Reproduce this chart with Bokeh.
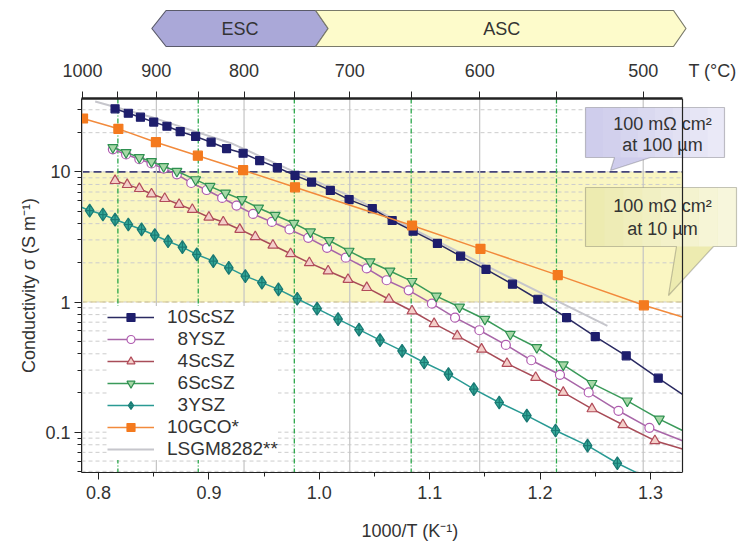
import math
from bokeh.plotting import figure
from bokeh.layouts import column
from bokeh.models import (Range1d, FixedTicker, CustomJSTickFormatter, NumeralTickFormatter,
                          LinearAxis, Span, BoxAnnotation, PolyAnnotation, Label, Legend, LegendItem)
from bokeh.embed import file_html
from bokeh.resources import INLINE

# ---------------- data ----------------
sc10_x = [0.815, 0.827, 0.838, 0.850, 0.862, 0.874, 0.888, 0.902, 0.916, 0.931, 0.946, 0.962, 0.978, 0.993,
          1.010, 1.027, 1.048, 1.066, 1.085, 1.107, 1.128, 1.151, 1.175, 1.198, 1.224, 1.250, 1.278, 1.307]
sc10_y = [30.5, 28.2, 26.3, 24.1, 22.4, 20.4, 18.7, 16.9, 15.1, 13.9, 12.2, 10.8, 9.4, 8.35,
          7.2, 6.12, 5.22, 4.23, 3.50, 2.82, 2.25, 1.78, 1.37, 1.05, 0.758, 0.542, 0.386, 0.260]
sc10_fit_x = [1.329]
sc10_fit_y = [0.195]

ysz8_x = [0.813, 0.825, 0.837, 0.848, 0.859, 0.871, 0.884, 0.898, 0.912, 0.925, 0.940, 0.957, 0.973, 0.990,
          1.007, 1.024, 1.043, 1.061, 1.081, 1.102, 1.123, 1.145, 1.169, 1.192, 1.218, 1.244, 1.271, 1.299]
ysz8_y = [14.9, 13.6, 12.5, 11.6, 10.6, 9.57, 8.21, 7.25, 6.30, 5.51, 4.75, 4.12, 3.61, 3.11,
          2.61, 2.19, 1.81, 1.47, 1.23, 0.971, 0.758, 0.607, 0.468, 0.357, 0.276, 0.202, 0.146, 0.108]
ysz8_fit_x = [1.329]
ysz8_fit_y = [0.086]

sc4_x = [0.815, 0.826, 0.837, 0.848, 0.860, 0.873, 0.885, 0.900, 0.913, 0.928, 0.942, 0.958, 0.974, 0.991,
         1.008, 1.026, 1.043, 1.063, 1.084, 1.104, 1.125, 1.147, 1.170, 1.196, 1.221, 1.247, 1.275, 1.304]
sc4_y = [8.56, 7.98, 7.43, 6.76, 6.23, 5.61, 5.13, 4.48, 4.12, 3.61, 3.17, 2.73, 2.35, 2.00,
         1.73, 1.49, 1.29, 1.05, 0.853, 0.682, 0.549, 0.434, 0.337, 0.263, 0.202, 0.151, 0.114, 0.086]
sc4_fit_x = [1.329]
sc4_fit_y = [0.0743]

sc6_x = [0.813, 0.825, 0.837, 0.848, 0.859, 0.871, 0.888, 0.901, 0.915, 0.930, 0.945, 0.960, 0.977, 0.992,
         1.009, 1.027, 1.046, 1.064, 1.084, 1.106, 1.127, 1.150, 1.173, 1.197, 1.221, 1.247, 1.279, 1.308]
sc6_y = [15.4, 14.1, 12.9, 12.0, 11.0, 10.1, 8.71, 7.74, 6.88, 6.12, 5.28, 4.64, 4.03, 3.46,
         2.97, 2.46, 2.04, 1.73, 1.44, 1.11, 0.916, 0.737, 0.566, 0.447, 0.329, 0.237, 0.174, 0.126]
sc6_fit_x = [1.329]
sc6_fit_y = [0.103]

ysz3_x = [0.792, 0.804, 0.815, 0.827, 0.839, 0.851, 0.863, 0.876, 0.889, 0.904, 0.918, 0.933, 0.948, 0.963,
          0.980, 0.998, 1.017, 1.036, 1.055, 1.075, 1.095, 1.117, 1.140, 1.163, 1.188, 1.214, 1.243, 1.270]
ysz3_y = [5.04, 4.70, 4.30, 3.94, 3.61, 3.26, 2.93, 2.64, 2.32, 2.06, 1.83, 1.58, 1.41, 1.25,
          1.06, 0.889, 0.738, 0.613, 0.510, 0.421, 0.343, 0.279, 0.214, 0.169, 0.134, 0.103, 0.0788, 0.0577]
ysz3_fit_x0 = [0.7846]
ysz3_fit_y0 = [5.35]
ysz3_fit_x = [1.296]
ysz3_fit_y = [0.045]

gco_x = [0.786, 0.818, 0.852, 0.890, 0.931, 0.978, 1.084, 1.146, 1.216, 1.294]
gco_y = [25.7, 21.4, 16.9, 13.3, 10.3, 7.61, 3.87, 2.56, 1.61, 0.943]
gco_fit_x = [1.329]
gco_fit_y = [0.767]

lsgm_x = [0.797, 0.850, 0.920, 0.971, 1.030, 1.085, 1.170, 1.261]
lsgm_y = [34.7, 26.0, 16.6, 10.6, 6.4, 3.63, 1.58, 0.655]

x_ticks = [0.8, 0.9, 1.0, 1.1, 1.2, 1.3]
x_minor = [0.85, 0.95, 1.05, 1.15, 1.25]
y_ticks = [0.1, 1, 10]
y_minor = [0.05, 0.06, 0.07, 0.08, 0.09, 0.2, 0.3, 0.4, 0.5, 0.6, 0.7, 0.8, 0.9,
           2, 3, 4, 5, 6, 7, 8, 9, 20, 30]
T_labels = [1000, 900, 800, 700, 600, 500]      # deg C, labelled on top axis / solid grid
T_half = [950, 850, 750, 650, 550]               # deg C, dash-dot grid

# ---------------- layout constants (page pixels) ----------------
W, H = 738, 552
BANNER_H = 55
FL, FR, FT, FB = 81, 682, 98, 472          # visible plot box
X0, X1 = 0.7846, 1.329                      # data range of plot box
Y0, Y1 = 0.049, 36.6
XR = X0 + (W - FL) / (FR - FL) * (X1 - X0)  # frame extends to right page edge
FONT = "Liberation Sans"
TXT = "#333333"


def X(px):
    return X0 + (px - FL) / (FR - FL) * (X1 - X0)


def Y(py):
    l0, l1 = math.log10(Y0), math.log10(Y1)
    return 10 ** (l1 - (py - FT) / (FB - FT) * (l1 - l0))


def inv(T):
    return 1000.0 / (T + 273.15)


# ---------------- banner figure ----------------
b = figure(width=W, height=BANNER_H, x_range=Range1d(0, W), y_range=Range1d(BANNER_H, 0),
           output_backend="svg", toolbar_location=None, x_axis_location=None, y_axis_location=None,
           min_border_left=0, min_border_right=0, min_border_top=0, min_border_bottom=0)
b.grid.visible = False
b.outline_line_color = None
b.background_fill_color = "white"
b.border_fill_color = "white"
b.patch([79, 95, 263, 277, 263, 95], [28, 10, 10, 28, 46, 46],
        fill_color="#aaa8d8", line_color="#5a5a6a", line_width=1.2)
b.patch([263, 665, 679, 665, 263, 277], [10, 10, 28, 46, 46, 28],
        fill_color="#fdfbcb", line_color="#7a7a6a", line_width=1.2)
for tx, tt in [(178, "ESC"), (472, "ASC")]:
    b.add_layout(Label(x=tx, y=28, text=tt, text_font=FONT, text_font_size="18px", text_color=TXT,
                       text_align="center", text_baseline="middle"))

# ---------------- main figure ----------------
p = figure(width=W, height=H - BANNER_H, x_range=Range1d(X0, XR), y_range=Range1d(Y0, Y1), y_axis_type="log",
           output_backend="svg", toolbar_location=None,
           min_border_left=FL, min_border_right=0, min_border_top=FT - BANNER_H, min_border_bottom=H - FB)
p.background_fill_color = "white"
p.border_fill_color = "white"
p.outline_line_color = None

xax = p.below[0]
yax = p.left[0]
xax.ticker = FixedTicker(ticks=x_ticks, minor_ticks=x_minor)
xax.formatter = NumeralTickFormatter(format="0.0")
xax.axis_label = "1000/T (K\u207b\u00b9)"
xax.bounds = (X0, X1)
yax.ticker = FixedTicker(ticks=y_ticks, minor_ticks=y_minor)
yax.formatter = CustomJSTickFormatter(code="return String(tick)")
yax.axis_label = "Conductivity \u03c3 (S m\u207b\u00b9)"

top = LinearAxis(ticker=FixedTicker(ticks=[inv(t) for t in T_labels] + [X(712)],
                                    minor_ticks=[inv(t) for t in T_labels + T_half]),
                 formatter=CustomJSTickFormatter(
                     args=dict(lim=X1),
                     code="return tick > lim ? 'T (\u00b0C)' : String(Math.round(1000/tick - 273.15))"))
p.add_layout(top, "above")

for ax in [xax, yax, top]:
    ax.axis_line_color = "#222222"
    ax.major_tick_line_color = "#222222"
    ax.minor_tick_line_color = "#222222"
    ax.major_tick_in = 0
    ax.major_tick_out = 7
    ax.minor_tick_in = 0
    ax.minor_tick_out = 4
    ax.major_label_text_font = FONT
    ax.major_label_text_font_size = "18px"
    ax.major_label_text_color = TXT
    ax.axis_label_text_font = FONT
    ax.axis_label_text_font_size = "18px"
    ax.axis_label_text_font_style = "normal"
    ax.axis_label_text_color = TXT
xax.major_label_standoff = 6
xax.axis_label_standoff = 19
yax.major_label_standoff = 4
yax.axis_label_standoff = 3
top.axis_line_color = None
top.major_tick_out = 0
top.minor_tick_out = 7
top.major_label_standoff = 11

p.grid.visible = False

# yellow band 1..10
p.add_layout(BoxAnnotation(left=X0, right=X1, bottom=1, top=10, fill_color="#faf6c2", fill_alpha=1.0,
                           line_color=None, level="image"))
# horizontal grid
p.segment(x0=X0, x1=X1, y0=y_minor + y_ticks, y1=y_minor + y_ticks, line_color="#cccccc",
          line_width=1, line_dash="4 3", level="underlay")
for t in T_labels:
    p.add_layout(Span(location=inv(t), dimension="height", line_color="#c4c4c4", line_width=1.2, level="underlay"))
for t in T_half:
    p.add_layout(Span(location=inv(t), dimension="height", line_color="#2aa64a", line_width=1.3,
                      line_dash="5 2 1 2", level="underlay"))
p.segment(x0=X0, x1=X1, y0=10, y1=10, line_color="#44447a", line_width=1.6, line_dash="8 4", level="underlay")
p.segment(x0=X0, x1=X1, y0=1, y1=1, line_color="#d2c48a", line_width=1.2, line_dash="6 3", level="underlay")

# ---------------- series ----------------
items = []
r = p.line(lsgm_x, lsgm_y, line_color="#c6c6cc", line_width=2)
lsgm_item = LegendItem(label="LSGM8282**", renderers=[r])


def series(label, xs, ys, lx, ly, marker, size, fill, edge, lcol):
    rl = p.line(lx, ly, line_color=lcol, line_width=1.5)
    rs = p.scatter(xs, ys, marker=marker, size=size, fill_color=fill, line_color=edge, line_width=1.2)
    items.append(LegendItem(label=label, renderers=[rl, rs]))


series("10ScSZ", sc10_x, sc10_y, sc10_x + sc10_fit_x, sc10_y + sc10_fit_y,
       "square", 8, "#1e1e6c", "#1e1e6c", "#2a2a62")
series("\u20078YSZ", ysz8_x, ysz8_y, ysz8_x + ysz8_fit_x, ysz8_y + ysz8_fit_y,
       "circle", 9, "white", "#b05cb0", "#a866a8")
series("\u20074ScSZ", sc4_x, sc4_y, sc4_x + sc4_fit_x, sc4_y + sc4_fit_y,
       "triangle", 10, "#f4cfc9", "#b24c5a", "#a84c58")
series("\u20076ScSZ", sc6_x, sc6_y, sc6_x + sc6_fit_x, sc6_y + sc6_fit_y,
       "inverted_triangle", 10, "#a6d8a6", "#2e9050", "#3a9a5a")
series("\u20073YSZ", ysz3_x, ysz3_y, ysz3_fit_x0 + ysz3_x + ysz3_fit_x, ysz3_fit_y0 + ysz3_y + ysz3_fit_y,
       "diamond_cross", 13, "#34a898", "#1a7a74", "#2a9a94")
series("10GCO*", gco_x, gco_y, gco_x + gco_fit_x, gco_y + gco_fit_y,
       "square", 9, "#f47a1e", "#f47a1e", "#f28a3c")
items.append(lsgm_item)

legend = Legend(items=items, location=(26, 12), background_fill_color="white", background_fill_alpha=1.0,
                border_line_color=None, label_text_font=FONT, label_text_font_size="19px",
                label_text_color=TXT, glyph_width=47, glyph_height=20, label_height=20, spacing=0,
                padding=4, label_standoff=13, margin=0)
p.add_layout(legend)

# ---------------- callouts ----------------
def poly(pts, **kw):
    p.add_layout(PolyAnnotation(xs=[X(a) for a, _ in pts], ys=[Y(c) for _, c in pts], **kw))


def label(px, py, text, size="18px", align="center", style="normal"):
    p.add_layout(Label(x=X(px), y=Y(py), text=text, text_font=FONT, text_font_size=size, text_color=TXT,
                       text_align=align, text_baseline="middle", text_font_style=style))


box1 = [(585, 107), (724, 107), (724, 157), (650, 157), (610, 170), (614, 157), (585, 157)]
box2 = [(585, 187), (736, 187), (736, 246), (713, 246), (668, 295), (676, 246), (585, 246)]
poly(box1, fill_color="#cfcdec", fill_alpha=1, line_color=None)
poly(box2, fill_color="#edebb0", fill_alpha=1, line_color=None)
for (l, r_, t, bt) in [(585, 724, 107, 157), (585, 736, 187, 246)]:
    n = 8
    w = (r_ - l) / n
    for i in range(n):
        p.add_layout(BoxAnnotation(left=X(l + i * w), right=X(l + (i + 1) * w), top=Y(t), bottom=Y(bt),
                                   fill_color="white", fill_alpha=0.08 * i, line_color=None,
                                   level="annotation"))
poly(box1, fill_alpha=0, line_color="#4a4a4a", line_width=1.2)
poly(box2, fill_alpha=0, line_color="#4a4a4a", line_width=1.2)
label(662, 123, "100 m\u03a9 cm\u00b2")
label(662, 144, "at 100 \u00b5m")
label(662, 205, "100 m\u03a9 cm\u00b2")
label(662, 228, "at 10 \u00b5m")

# plot-box edges (top and right), drawn over everything
p.segment(x0=X0, x1=X1, y0=Y1, y1=Y1, line_color="#222222", line_width=2.4, level="overlay")
p.add_layout(Span(location=X1, dimension="height", line_color="#222222", line_width=1.2, level="overlay"))

open("out.html", "w").write(file_html(column(b, p, spacing=0), INLINE))
